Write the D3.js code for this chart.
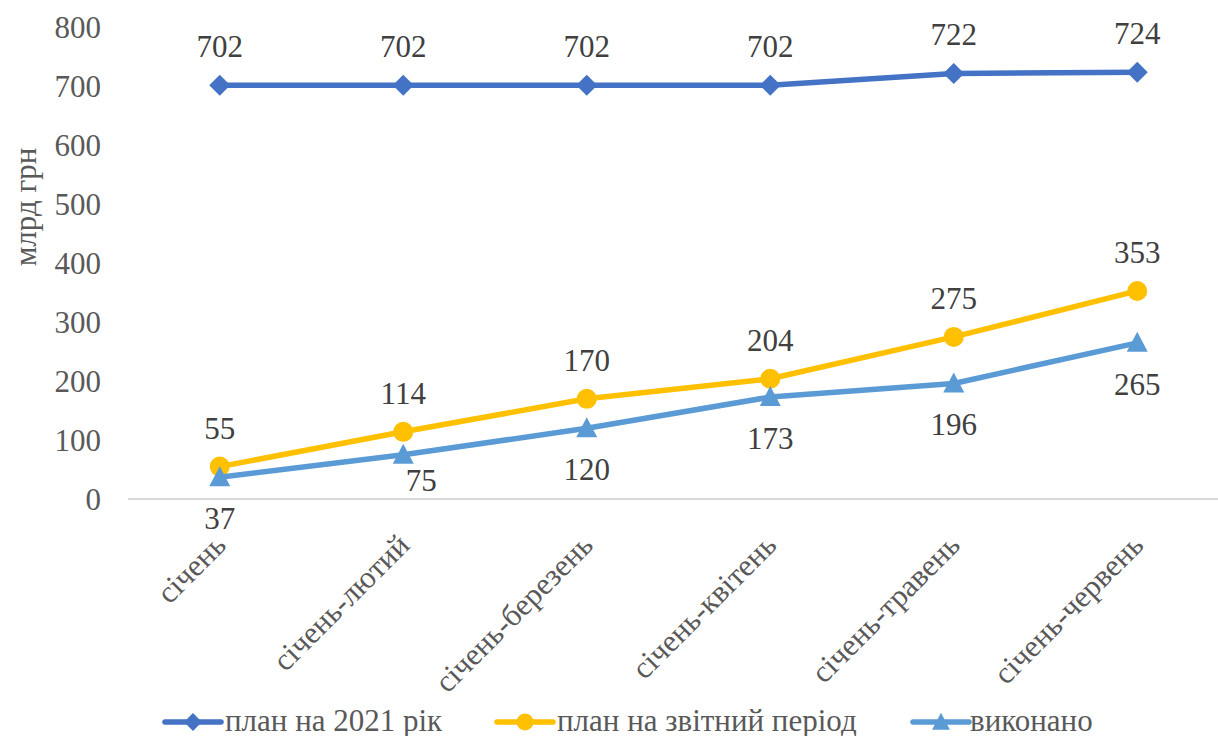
<!DOCTYPE html>
<html>
<head>
<meta charset="utf-8">
<script src="https://cdn.jsdelivr.net/npm/d3@7"></script>
<style>
  html, body { margin: 0; padding: 0; background: #fff; }
  svg { display: block; }
</style>
</head>
<body>
<svg id="chart" width="1218" height="736"></svg>
<script>
const categories = ["січень", "січень-лютий", "січень-березень", "січень-квітень", "січень-травень", "січень-червень"];
const seriesNames = ["план на 2021 рік", "план на звітний період", "виконано"];
const planYear = [702, 702, 702, 702, 722, 724];
const planPeriod = [55, 114, 170, 204, 275, 353];
const done = [37, 75, 120, 173, 196, 265];
const yTicks = [0, 100, 200, 300, 400, 500, 600, 700, 800];
const yTitle = "млрд грн";

const FONT = "Liberation Serif, DejaVu Serif, serif";

const series = [
  { name: seriesNames[0], values: planYear, color: "#4472C4", marker: "diamond", label: "above" },
  { name: seriesNames[1], values: planPeriod, color: "#FFC000", marker: "circle", label: "above" },
  { name: seriesNames[2], values: done, color: "#5B9BD5", marker: "triangle", label: "below" }
];

const svg = d3.select("#chart").attr("font-family", FONT);
const plot = { left: 128, right: 1229, top: 27.5, bottom: 499 };

const x = d3.scaleBand().domain(categories).range([plot.left, plot.right]).padding(0);
const cx = c => x(c) + x.bandwidth() / 2;
const y = d3.scaleLinear().domain([0, 800]).range([plot.bottom, plot.top]);

// Y axis labels
const yAxis = d3.axisLeft(y).tickValues(yTicks).tickSize(0).tickPadding(0).tickFormat(d3.format("d"));
const gy = svg.append("g").attr("transform", `translate(101,0)`).call(yAxis);
gy.attr("font-family", FONT).attr("font-size", 31);
gy.select(".domain").remove();
gy.selectAll("text").attr("fill", "#595959").attr("dy", "0.33em");

// Y title
svg.append("text")
  .attr("transform", `translate(36,207) rotate(-90)`)
  .attr("text-anchor", "middle")
  .attr("font-size", 31).attr("fill", "#595959")
  .text(yTitle);

// X axis line
svg.append("line")
  .attr("x1", plot.left).attr("x2", plot.right)
  .attr("y1", y(0)).attr("y2", y(0))
  .attr("stroke", "#D9D9D9").attr("stroke-width", 2);

// X category labels
svg.append("g").selectAll("text").data(categories).join("text")
  .attr("transform", d => `translate(${cx(d) + 8},${plot.bottom + 48}) rotate(-45)`)
  .attr("text-anchor", "end")
  .attr("font-size", 31).attr("fill", "#595959")
  .text(d => d);

function drawMarker(g, type, color, px, py, scale) {
  const s = scale || 1;
  if (type === "diamond") {
    const r = 10.5 * s;
    g.append("path").attr("d", `M${px},${py - r}L${px + r},${py}L${px},${py + r}L${px - r},${py}Z`).attr("fill", color);
  } else if (type === "circle") {
    g.append("circle").attr("cx", px).attr("cy", py).attr("r", 10 * s).attr("fill", color);
  } else {
    const w = 10.5 * s, h = 20 * s;
    g.append("path").attr("d", `M${px},${py - h * 0.55}L${px + w},${py + h * 0.45}L${px - w},${py + h * 0.45}Z`).attr("fill", color);
  }
}

const line = d3.line().x((d, i) => cx(categories[i])).y(d => y(d));

series.forEach(s => {
  svg.append("path").datum(s.values)
    .attr("d", line)
    .attr("fill", "none").attr("stroke", s.color)
    .attr("stroke-width", 5.5).attr("stroke-linejoin", "round").attr("stroke-linecap", "round");
  const g = svg.append("g");
  s.values.forEach((v, i) => drawMarker(g, s.marker, s.color, cx(categories[i]), y(v)));
});

// data labels
series.forEach((s, si) => {
  svg.append("g").selectAll("text").data(s.values).join("text")
    .attr("x", (d, i) => cx(categories[i]) + (si === 2 && i === 1 ? 18 : 0))
    .attr("y", (d, i) => {
      if (s.label === "above") return y(d) - 28;
      if (i === 1) return y(d) + 36;
      return y(d) + 52;
    })
    .attr("text-anchor", "middle")
    .attr("font-size", 31).attr("fill", "#404040")
    .text(d => d);
});

// legend
const legendItems = [
  { lx: 165, tx: 225 },
  { lx: 497, tx: 557 },
  { lx: 913, tx: 970 }
];
const lg = svg.append("g");
series.forEach((s, i) => {
  const it = legendItems[i];
  const ly = 722;
  lg.append("line").attr("x1", it.lx).attr("x2", it.lx + 56).attr("y1", ly).attr("y2", ly)
    .attr("stroke", s.color).attr("stroke-width", 5.5).attr("stroke-linecap", "round");
  drawMarker(lg, s.marker, s.color, it.lx + 28, ly, 0.85);
  lg.append("text").attr("x", it.tx).attr("y", ly + 9)
    .attr("font-size", 31).attr("fill", "#595959").text(s.name);
});
</script>
</body>
</html>
